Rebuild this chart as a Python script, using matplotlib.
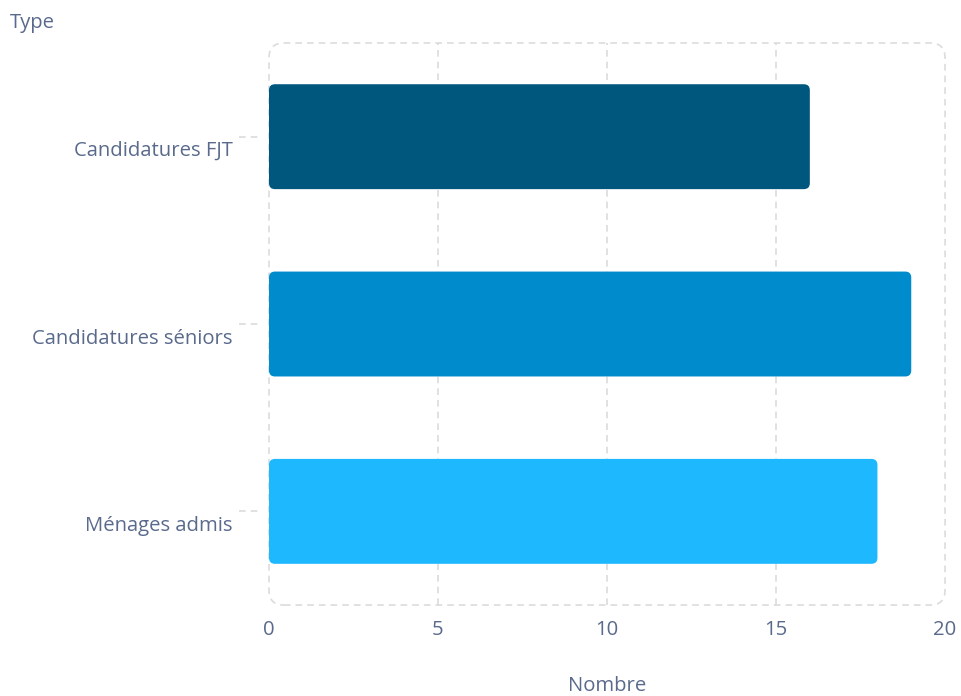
import matplotlib.pyplot as plt
from matplotlib.patches import FancyBboxPatch
from matplotlib.transforms import blended_transform_factory, ScaledTranslation

plt.rcParams['font.family'] = ['Open Sans', 'DejaVu Sans']

categories = ["Candidatures FJT", "Candidatures séniors", "Ménages admis"]
values = [16, 19, 18]
colors = ["#00577e", "#008bcc", "#1eb8ff"]
xticks = [0, 5, 10, 15, 20]

text_color = "#5a6a8c"
grid_color = "#dcdcdc"

fig = plt.figure(figsize=(9.61, 6.96), dpi=100)
ax = fig.add_axes([0.2799, 0.1307, 0.7035, 0.8075])

ypos = list(range(len(categories)))[::-1]
bars = ax.barh(ypos, values, height=0.56, color=colors)

# replace bars with rounded ones
ax.set_xlim(0, 20)
ax.set_ylim(-0.5, 2.5)
xr = 6 / 33.8
yr = 6 / 187.3
for b in bars:
    x, y = b.get_x(), b.get_y()
    w, h = b.get_width(), b.get_height()
    b.set_visible(False)
    p = FancyBboxPatch((x, y), w, h, boxstyle=f"round,pad=0,rounding_size={xr}",
                       mutation_aspect=yr / xr, facecolor=b.get_facecolor(),
                       edgecolor="none", zorder=3)
    ax.add_patch(p)

# grid
for t in xticks[1:-1]:
    ax.axvline(t, color=grid_color, lw=1.2, ls=(0, (4, 3)), zorder=1)

for s in ax.spines.values():
    s.set_visible(False)

frame = FancyBboxPatch((0, 0), 1, 1, boxstyle="round,pad=0,rounding_size=0.022",
                       mutation_aspect=676 / 562, transform=ax.transAxes,
                       facecolor="none", edgecolor=grid_color, lw=1.2,
                       ls=(0, (4, 3)), clip_on=False, zorder=1)
ax.add_patch(frame)

# little dashed ticks for categories
trans = blended_transform_factory(ax.transAxes, ax.transData)
for y in ypos:
    ax.plot([-0.045, -0.01], [y, y], transform=trans, color=grid_color,
            lw=1.2, ls=(0, (4, 3)), clip_on=False)

ax.set_yticks(ypos)
ax.set_yticklabels(categories)
ax.set_xticks(xticks)
ax.tick_params(axis='y', length=0, pad=26, labelsize=14.6, labelcolor=text_color)
ax.tick_params(axis='x', length=0, pad=11, labelsize=14.6, labelcolor=text_color)

shift = ScaledTranslation(0, -12 / 100, fig.dpi_scale_trans)
for lab in ax.get_yticklabels():
    lab.set_transform(lab.get_transform() + shift)

fig.text(10 / 961, 1 - 23 / 696, "Type", fontsize=14.6, color=text_color, va='center', ha='left')
fig.text(607 / 961, 1 - 686 / 696, "Nombre", fontsize=14.6, color=text_color, va='center', ha='center')

fig.savefig("out.png", dpi=100)
